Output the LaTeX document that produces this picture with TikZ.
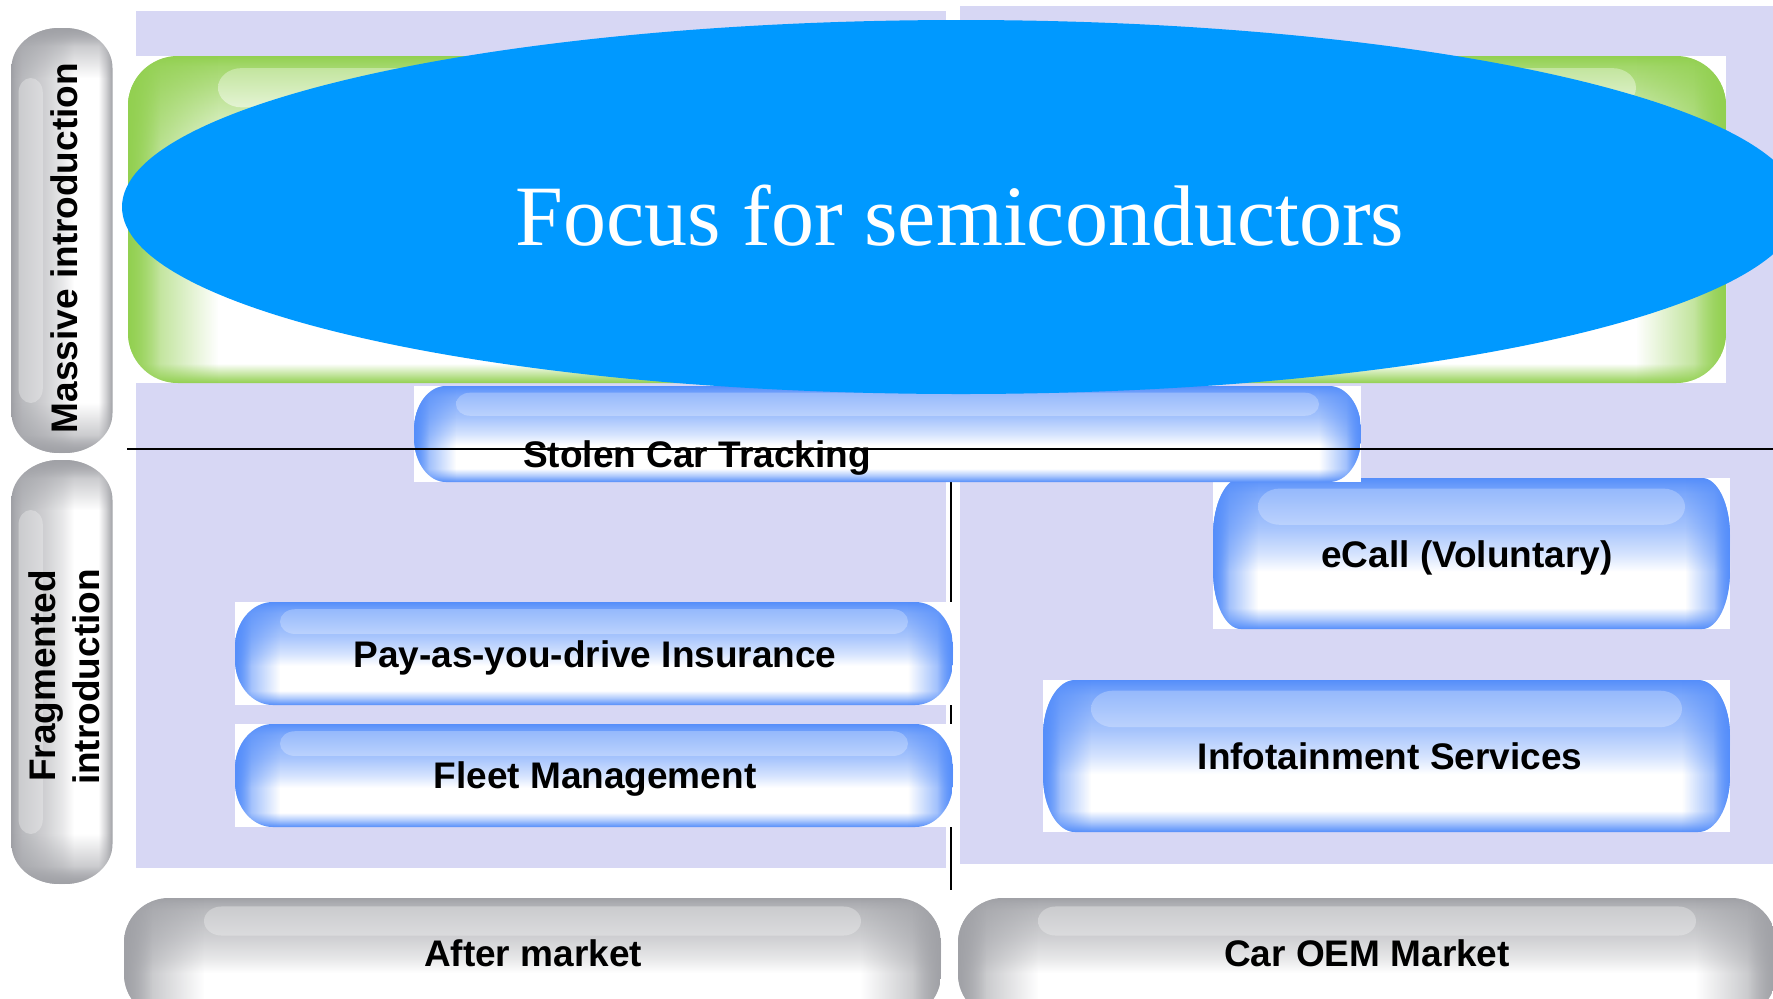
\documentclass[tikz,border=0pt]{standalone}
\usepackage{fontspec}
\setmainfont{Liberation Serif}
\setsansfont{Liberation Sans}
\usetikzlibrary{shapes.geometric,fadings}
\definecolor{lav}{RGB}{215,215,244}
\definecolor{ellblue}{RGB}{0,153,255}
\definecolor{pblue}{RGB}{85,142,250}
\definecolor{pgray}{RGB}{160,161,166}
\definecolor{pgreen}{RGB}{146,208,80}
% vertical gloss profiles (bbox maps to 25bp..75bp, bottom to top)
\pgfdeclareverticalshading{shpblue}{100bp}{color(0bp)=(pblue); color(25bp)=(pblue); color(28.5bp)=(pblue!45!white); color(32bp)=(white); color(44bp)=(white); color(50bp)=(pblue!25!white); color(58.5bp)=(pblue!52!white); color(70bp)=(pblue!78!white); color(73bp)=(pblue!90!white); color(75bp)=(pblue); color(100bp)=(pblue)}
\pgfdeclareverticalshading{shpgray}{100bp}{color(0bp)=(pgray); color(25bp)=(pgray); color(28.5bp)=(pgray!45!white); color(32bp)=(white); color(44bp)=(white); color(50bp)=(pgray!25!white); color(58.5bp)=(pgray!50!white); color(70bp)=(pgray!75!white); color(73bp)=(pgray!88!white); color(75bp)=(pgray); color(100bp)=(pgray)}
\pgfdeclareverticalshading{shpgreen}{100bp}{color(0bp)=(pgreen); color(25bp)=(pgreen); color(26.5bp)=(pgreen!50!white); color(28bp)=(white); color(52bp)=(white); color(60bp)=(pgreen!15!white); color(67bp)=(pgreen!50!white); color(73.5bp)=(pgreen!85!white); color(75bp)=(pgreen); color(100bp)=(pgreen)}
% highlight bands
\pgfdeclareverticalshading{bandpblue}{100bp}{color(0bp)=(pblue!40!white); color(25bp)=(pblue!40!white); color(75bp)=(pblue!62!white); color(100bp)=(pblue!62!white)}
\pgfdeclareverticalshading{bandpgray}{100bp}{color(0bp)=(pgray!38!white); color(25bp)=(pgray!38!white); color(75bp)=(pgray!55!white); color(100bp)=(pgray!55!white)}
\pgfdeclareverticalshading{bandpgreen}{100bp}{color(0bp)=(pgreen!25!white); color(25bp)=(pgreen!25!white); color(75bp)=(pgreen!55!white); color(100bp)=(pgreen!55!white)}
\tikzfading[name=fadeR, left color=transparent!0, right color=transparent!100]
\tikzfading[name=fadeL, left color=transparent!100, right color=transparent!0]
% rounded rectangle with elliptic corners: x1 y1 x2 y2 (y up) rx ry
\newcommand\rrp[6]{(#1+#5,#2) -- (#3-#5,#2) arc[start angle=-90,end angle=0,x radius=#5,y radius=#6] -- (#3,#4-#6) arc[start angle=0,end angle=90,x radius=#5,y radius=#6] -- (#1+#5,#4) arc[start angle=90,end angle=180,x radius=#5,y radius=#6] -- (#1,#2+#6) arc[start angle=180,end angle=270,x radius=#5,y radius=#6] -- cycle}
\def\pBT{0.07}\def\pBH{0.24}
% #1 scope options, #2 W, #3 H, #4 rx, #5 ry, #6 colour, #7 side fade
\newcommand\glosspill[7]{%
\begin{scope}[#1]
  \pgfmathsetmacro\pHW{#2/2}\pgfmathsetmacro\pHH{#3/2}
  \shade[shading=sh#6] \rrp{-\pHW}{-\pHH}{\pHW}{\pHH}{#4}{#5};
  \begin{scope}
    \clip \rrp{-\pHW}{-\pHH}{\pHW}{\pHH}{#4}{#5};
    \fill[#6, path fading=fadeR, fill opacity=0.85] (-\pHW,-\pHH) rectangle (-\pHW+#7,\pHH);
    \fill[#6, path fading=fadeL, fill opacity=0.85] (\pHW-#7,-\pHH) rectangle (\pHW,\pHH);
    \fill[#6, path fading=fadeR] (-\pHW,-\pHH) rectangle (-\pHW+0.35*#7,\pHH);
    \fill[#6, path fading=fadeL] (\pHW-0.35*#7,-\pHH) rectangle (\pHW,\pHH);
  \end{scope}
  \pgfmathsetmacro\pYb{\pHH-\pBT*#3}\pgfmathsetmacro\pYa{\pYb-\pBH*#3}
  \pgfmathsetmacro\pRy{\pBH*#3/2}\pgfmathsetmacro\pRx{1.2*\pRy}
  \shade[shading=band#6] \rrp{-\pHW+#7}{\pYa}{\pHW-#7}{\pYb}{\pRx}{\pRy};
\end{scope}}
\begin{document}
\begin{tikzpicture}[x=0.5pt,y=0.5pt,
  lbl/.style={font=\sffamily\bfseries\fontsize{18.5}{22}\selectfont, inner sep=0pt, text=black},
  panel/.style={fill=lav},
  sepline/.style={line width=1pt, draw=black},
  bgbox/.style={fill=white}]
\useasboundingbox (0,0) rectangle (1773,-998);
\fill[white] (0,0) rectangle (1773,-998);
% panels
\fill[panel] (136,-11) rectangle (946,-868);
\fill[panel] (960,-6) rectangle (1773,-864);
% grey pills
\glosspill{transform canvas={shift={(62,-240.5)},rotate=90}}{425}{101}{40}{48}{pgray}{50}
\glosspill{transform canvas={shift={(62,-672)},rotate=90}}{424}{101}{40}{48}{pgray}{50}
\glosspill{shift={(532.5,-958.5)}}{817}{121}{45}{45}{pgray}{80}
\glosspill{shift={(1367,-958.5)}}{818}{121}{45}{45}{pgray}{80}
% green box
\fill[bgbox] (128,-56) rectangle (1726,-383);
\begingroup
\def\pBT{0.037}\def\pBH{0.12}
\glosspill{shift={(927,-219.5)}}{1598}{327}{50}{50}{pgreen}{90}
\endgroup
% vertical separator
\coordinate (vtop) at (951,-482);
\coordinate (vbot) at (951,-890);
\draw[sepline] (vtop) -- (vbot);
% blue boxes
\fill[bgbox] (1213,-478) rectangle (1730,-629);
\glosspill{shift={(1471.5,-553.5)}}{517}{151}{28}{58}{pblue}{45}
\fill[bgbox] (1043,-680) rectangle (1730,-832);
\glosspill{shift={(1386.5,-756)}}{687}{152}{32}{56}{pblue}{48}
\fill[bgbox] (235,-602) rectangle (953,-705);
\glosspill{shift={(594,-653.5)}}{718}{103}{38}{45}{pblue}{45}
\fill[bgbox] (235,-724) rectangle (953,-827);
\glosspill{shift={(594,-775.5)}}{718}{103}{38}{45}{pblue}{45}
\fill[bgbox] (414,-386) rectangle (1361,-482);
\glosspill{shift={(887.5,-434)}}{947}{96}{32}{44}{pblue}{42}
% ellipse
\node[ellipse, fill=ellblue, minimum width=839pt, minimum height=187pt, inner sep=0pt] (focus) at (961,-207) {};
% horizontal separator
\coordinate (hl) at (127,-449);
\coordinate (hr) at (1773,-449);
\draw[sepline] (hl) -- (hr);
% texts
\node[font=\fontsize{43}{50}\selectfont, text=white, inner sep=0pt, anchor=base] (focustxt) at (960,-245) {Focus for semiconductors};
\node[lbl, anchor=base] (stolen) at (697,-467) {Stolen Car Tracking};
\node[lbl, anchor=base] (pay) at (595,-667) {Pay-as-you-drive Insurance};
\node[lbl, anchor=base] (fleet) at (595,-788.5) {Fleet Management};
\node[lbl, anchor=base] (ecall) at (1467,-567) {eCall (Voluntary)};
\node[lbl, anchor=base] (info) at (1390,-769) {Infotainment Services};
\node[lbl, anchor=base] (after) at (533,-966) {After market};
\node[lbl, anchor=base] (oem) at (1367,-966) {Car OEM Market};
\node[lbl, rotate=90, anchor=base] (massive) at (77,-248) {Massive introduction};
\node[lbl, rotate=90, anchor=base] (fragA) at (55,-676) {Fragmented};
\node[lbl, rotate=90, anchor=base] (fragB) at (99,-677) {introduction};
\end{tikzpicture}
\end{document}
